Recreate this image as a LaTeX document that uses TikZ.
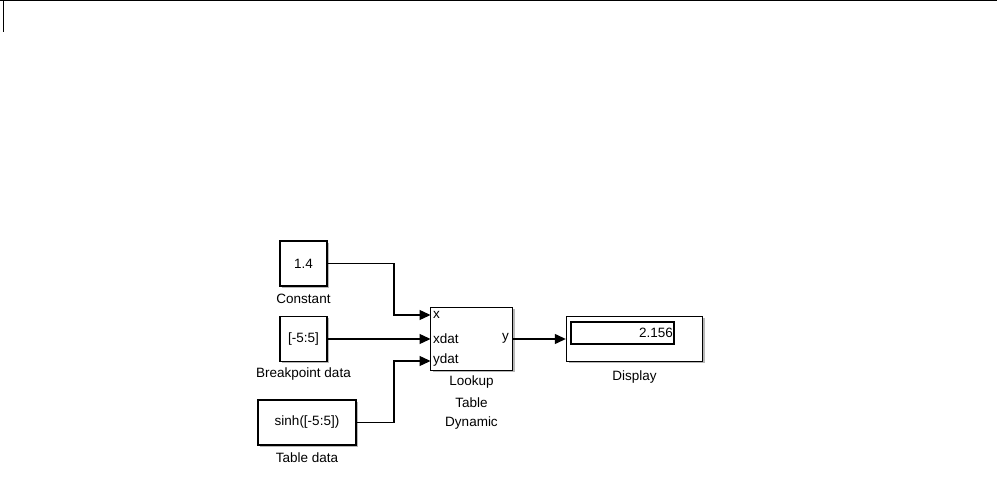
\documentclass[tikz,border=0pt]{standalone}
\usepackage{fontspec}
\setmainfont{Liberation Sans}
\usetikzlibrary{arrows.meta,shadows}
\begin{document}
\begin{tikzpicture}[x=1pt,y=-1pt,
  blk/.style={draw=black,line width=1.4pt,fill=white,inner sep=0pt,
    drop shadow={shadow xshift=2pt,shadow yshift=-2pt,fill=black!40,opacity=0.7}},
  lbl/.style={font=\fontsize{13.5}{16}\selectfont,inner sep=0pt},
  wire/.style={line width=1.3pt,-{Triangle[length=11pt,width=10pt]}}
]
\useasboundingbox (0,0) rectangle (997,481);
\draw[line width=1.2pt] (0,0.6) -- (997,0.6);
\draw[line width=1.2pt] (3.5,0) -- (3.5,32);

% blocks
\node[blk,minimum width=47pt,minimum height=45pt] (const) at (303.5,263.5) {};
\node[lbl] at (const) {1.4};
\node[lbl] (constl) at (303.5,299) {Constant};

\node[blk,minimum width=47pt,minimum height=45pt] (bp) at (303.5,339) {};
\node[lbl] at (bp) {[-5:5]};
\node[lbl] (bpl) at (303.5,374) {Breakpoint data};

\node[blk,minimum width=98pt,minimum height=45pt] (tab) at (307,422.5) {};
\node[lbl] at (tab) {sinh([-5:5])};
\node[lbl] (tabl) at (307,458) {Table data};

\node[blk,minimum width=82pt,minimum height=63pt] (lut) at (471.5,339) {};
\coordinate (inx) at (430.5,315);
\coordinate (inxd) at (430.5,339);
\coordinate (inyd) at (430.5,361);
\node[lbl,anchor=west] (px) at (433,315) {x};
\node[lbl,anchor=west] (pxd) at (433,338.5) {xdat};
\node[lbl,anchor=west] (pyd) at (433,360.5) {ydat};
\node[lbl,anchor=east] (py) at (509,338.5) {y};
\node[lbl] (lutl1) at (471.5,382) {Lookup};
\node[lbl] (lutl2) at (471.5,403) {Table};
\node[lbl] (lutl3) at (471.5,423) {Dynamic};

\node[blk,minimum width=136pt,minimum height=45pt] (disp) at (634.5,339) {};
\node[draw=black,line width=1.2pt,minimum width=103pt,minimum height=22pt,inner sep=0pt] (dbox) at (622.5,333) {};
\node[lbl,anchor=east] (dval) at (673,333) {2.156};
\node[lbl] (displ) at (634.5,377) {Display};

% wires
\draw[wire] (const.east) -- (394,263.5) |- (inx);
\draw[wire] (bp.east) -- (inxd);
\draw[wire] (tab.east) -- (394,422.5) |- (inyd);
\draw[wire] (lut.east) -- (disp.west);
\end{tikzpicture}
\end{document}
